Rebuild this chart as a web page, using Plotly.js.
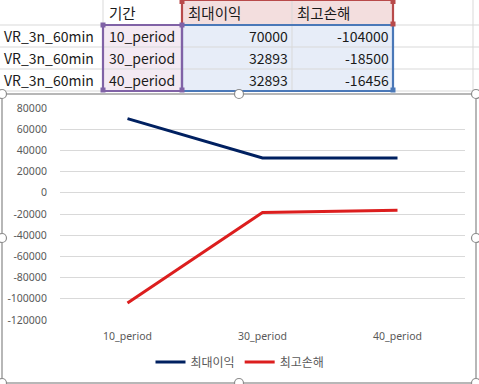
<!DOCTYPE html>
<html>
<head>
<meta charset="utf-8">
<script src="https://cdn.plot.ly/plotly-3.0.1.min.js"></script>
<style>
html,body{margin:0;padding:0;background:#fff;}
#chart{width:479px;height:384px;}
</style>
</head>
<body>
<div id="chart"></div>
<script>
// ---- data ----
const periods = ['10_period', '30_period', '40_period'];
const maxProfit = [70000, 32893, 32893];
const maxLoss = [-104000, -18500, -16456];
const rowLabels = ['VR_3n_60min', 'VR_3n_60min', 'VR_3n_60min'];
const headers = ['기간', '최대이익', '최고손해'];
const seriesNames = ['최대이익', '최고손해'];
const yTicks = [80000, 60000, 40000, 20000, 0, -20000, -40000, -60000, -80000, -100000, -120000];

// ---- helpers: pixel -> paper ----
const W = 479, H = 384;
const px = x => x / W;
const py = y => 1 - y / H;

const shapes = [];
const annotations = [];
const KFONT = '"Noto Sans CJK KR", "Noto Sans", sans-serif';

function rect(x0, y0, x1, y1, opts) {
  shapes.push(Object.assign({type: 'rect', xref: 'paper', yref: 'paper',
    x0: px(x0), x1: px(x1), y0: py(y1), y1: py(y0)}, opts));
}
function line(x0, y0, x1, y1, color, width, layer) {
  shapes.push({type: 'line', xref: 'paper', yref: 'paper', layer: layer || 'below',
    x0: px(x0), x1: px(x1), y0: py(y0), y1: py(y1), line: {color: color, width: width}});
}
function text(t, x, y, xanchor, size) {
  annotations.push({text: t, xref: 'paper', yref: 'paper', x: px(x), y: py(y),
    xanchor: xanchor, yanchor: 'middle', showarrow: false,
    font: {family: KFONT, size: size || 14, color: '#1a1a1a'}});
}

// ---- spreadsheet part ----
const colEdges = [103, 182, 292, 393, 473];
const rowEdges = [25, 47, 69, 91];
const rowCenters = [36, 58, 80];

// fills
rect(182, 0, 393, 25, {layer: 'below', fillcolor: '#f3dede', line: {width: 0}});
rect(103, 25, 182, 91, {layer: 'below', fillcolor: '#f4eaf3', line: {width: 0}});
rect(182, 25, 393, 91, {layer: 'below', fillcolor: '#e7edf8', line: {width: 0}});
// grid lines
rowEdges.forEach(y => line(0, y, 479, y, '#d9d9d9', 1));
colEdges.forEach(x => line(x, 0, x, 92, '#d9d9d9', 1));

// texts
text(headers[0], 107, 13, 'left', 14.5);
text(headers[1], 186, 13, 'left', 14.5);
text(headers[2], 295, 13, 'left', 14.5);
for (let i = 0; i < periods.length; i++) {
  text(rowLabels[i], 2, rowCenters[i], 'left');
  text(periods[i], 107, rowCenters[i], 'left');
  text(String(maxProfit[i]), 290, rowCenters[i], 'right');
  text(String(maxLoss[i]), 391, rowCenters[i], 'right');
}

// selection borders
rect(182, 0, 393, 25, {layer: 'above', fillcolor: 'rgba(0,0,0,0)', line: {color: '#b84a4a', width: 2.2}});
rect(182, 25, 393, 91, {layer: 'above', fillcolor: 'rgba(0,0,0,0)', line: {color: '#4a78b8', width: 2.2}});
rect(103, 25, 182, 91, {layer: 'above', fillcolor: 'rgba(0,0,0,0)', line: {color: '#8062a6', width: 2.2}});
function sq(x, y, c) { rect(x - 2.5, y - 2.5, x + 2.5, y + 2.5, {layer: 'above', fillcolor: c, line: {width: 0}}); }
sq(182, 1.5, '#b84a4a'); sq(393, 1.5, '#b84a4a'); sq(393, 24, '#b84a4a');
sq(103, 25, '#8062a6'); sq(182, 25, '#8062a6'); sq(103, 90, '#8062a6'); sq(182, 90, '#8062a6');
sq(393, 90, '#4a78b8');

// chart area
rect(2, 94, 476, 383, {layer: 'below', fillcolor: '#ffffff', line: {color: '#a0a0a0', width: 1.5}});
[[2, 94], [239, 94], [476, 94], [2, 238], [476, 238], [2, 383], [239, 383], [476, 383]].forEach(p => {
  shapes.push({type: 'circle', xref: 'paper', yref: 'paper', layer: 'above',
    x0: px(p[0] - 4.5), x1: px(p[0] + 4.5), y0: py(p[1] + 4.5), y1: py(p[1] - 4.5),
    fillcolor: '#ffffff', line: {color: '#8c8c8c', width: 1.2}});
});

// ---- chart traces ----
const traces = [
  {x: periods, y: maxProfit, name: seriesNames[0], type: 'scatter', mode: 'lines',
   line: {color: '#002060', width: 3}},
  {x: periods, y: maxLoss, name: seriesNames[1], type: 'scatter', mode: 'lines',
   line: {color: '#dc1e1e', width: 3}}
];

const layout = {
  width: W, height: H, autosize: false,
  margin: {l: 0, r: 0, t: 0, b: 0, pad: 0},
  paper_bgcolor: '#ffffff', plot_bgcolor: 'rgba(0,0,0,0)',
  showlegend: true,
  font: {family: KFONT, color: '#595959'},
  xaxis: {
    domain: [px(60), px(465)], range: [-0.5, 2.5], type: 'category',
    showgrid: false, zeroline: false, showline: false,
    ticks: 'outside', ticklen: 6, tickcolor: 'rgba(0,0,0,0)',
    tickfont: {family: '"Noto Sans", sans-serif', size: 10.5, color: '#595959'},
    fixedrange: true
  },
  yaxis: {
    domain: [py(320), py(108)], range: [-120000, 80000],
    tickvals: yTicks, ticktext: yTicks.map(v => String(v)),
    showgrid: true, gridcolor: '#d9d9d9', gridwidth: 1,
    zeroline: false, showline: false,
    ticks: 'outside', ticklen: 10, tickcolor: 'rgba(0,0,0,0)',
    tickfont: {family: '"Noto Sans", sans-serif', size: 10.5, color: '#595959'},
    fixedrange: true
  },
  legend: {
    orientation: 'h', x: px(240), xanchor: 'center', y: py(362), yanchor: 'middle',
    xref: 'paper', yref: 'paper',
    font: {family: KFONT, size: 12, color: '#595959'},
    bgcolor: 'rgba(0,0,0,0)', itemwidth: 30
  },
  shapes: shapes,
  annotations: annotations
};

Plotly.newPlot('chart', traces, layout, {displayModeBar: false, staticPlot: true});
</script>
</body>
</html>
